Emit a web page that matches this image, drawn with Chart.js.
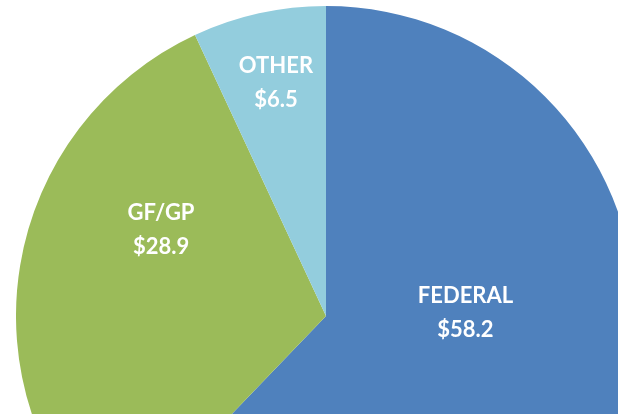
<!DOCTYPE html>
<html>
<head>
<meta charset="utf-8">
<script src="https://cdn.jsdelivr.net/npm/chart.js@4.4.1/dist/chart.umd.min.js"></script>
<style>
html,body{margin:0;padding:0;width:618px;height:414px;overflow:hidden;background:#fff;}
#wrap{position:absolute;left:16px;top:6px;width:620px;height:620px;}
</style>
</head>
<body>
<div id="wrap"><canvas id="c" width="620" height="620"></canvas></div>
<script>
const categories = ["FEDERAL", "GF/GP", "OTHER"];
const values = [58.2, 28.9, 6.5];
const valueLabels = ["$58.2", "$28.9", "$6.5"];
const colors = ["#4F81BD", "#9BBB59", "#93CDDD"];

// label placement: angle (deg clockwise from top) and fraction of radius
const labelAngles = [88.8, 297.5, 347.9];
const labelRadii = [0.45, 0.60, 0.77];

const labelPlugin = {
  id: 'sliceLabels',
  afterDatasetsDraw(chart) {
    const ctx = chart.ctx;
    const meta = chart.getDatasetMeta(0);
    const arc0 = meta.data[0];
    const cx = arc0.x, cy = arc0.y, R = arc0.outerRadius;
    ctx.save();
    ctx.fillStyle = '#ffffff';
    ctx.textAlign = 'center';
    ctx.textBaseline = 'middle';
    ctx.font = 'bold 22px Lato';
    categories.forEach((cat, i) => {
      const a = labelAngles[i] * Math.PI / 180;
      const r = labelRadii[i] * R;
      const x = cx + Math.sin(a) * r;
      const y = cy - Math.cos(a) * r;
      ctx.fillText(cat, x, y - 17);
      ctx.fillText(valueLabels[i], x, y + 17);
    });
    ctx.restore();
  }
};

new Chart(document.getElementById('c'), {
  type: 'pie',
  data: {
    labels: categories,
    datasets: [{
      data: values,
      backgroundColor: colors,
      borderWidth: 0
    }]
  },
  options: {
    responsive: false,
    animation: false,
    layout: { padding: 0 },
    plugins: { legend: { display: false }, tooltip: { enabled: false } }
  },
  plugins: [labelPlugin]
});
</script>
</body>
</html>
